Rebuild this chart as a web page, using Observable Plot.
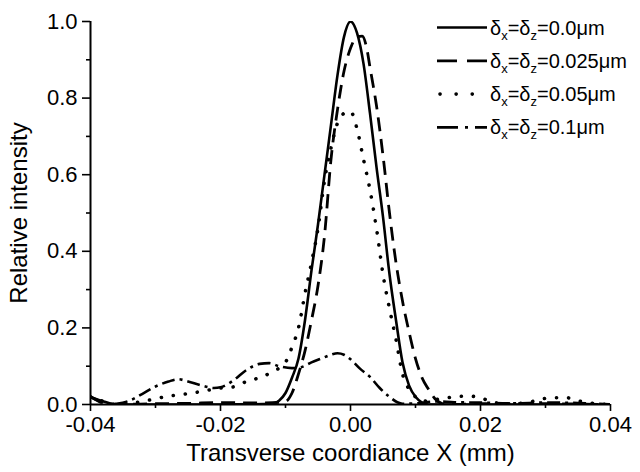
<!DOCTYPE html>
<html>
<head>
<meta charset="utf-8">
<script src="https://cdn.jsdelivr.net/npm/d3@7"></script>
<script src="https://cdn.jsdelivr.net/npm/@observablehq/plot@0.6"></script>
<style>
  html, body { margin: 0; padding: 0; background: #fff; }
  #chart { position: relative; width: 640px; height: 472px; }
</style>
</head>
<body>
<div id="chart"></div>
<script>
// ---- Data ----
const seriesNames = ["0.0", "0.025", "0.05", "0.1"];

const x0 = [-0.040,-0.038,-0.036,-0.030,-0.020,-0.012,-0.011,-0.010,-0.009,-0.008,-0.007,-0.006,-0.005,-0.004,-0.003,-0.002,-0.001,0.000,0.001,0.002,0.003,0.004,0.005,0.006,0.007,0.008,0.009,0.010,0.011,0.012,0.020,0.030,0.040];
const y0 = [0.020,0.008,0.000,0.000,0.000,0.002,0.010,0.030,0.070,0.120,0.220,0.350,0.470,0.600,0.730,0.860,0.960,1.000,0.970,0.890,0.760,0.620,0.490,0.340,0.220,0.110,0.050,0.020,0.005,0.000,0.000,0.000,0.000];

const x1 = [-0.040,-0.038,-0.036,-0.030,-0.025,-0.020,-0.015,-0.012,-0.010,-0.009,-0.008,-0.007,-0.006,-0.005,-0.004,-0.003,-0.002,-0.001,0.000,0.001,0.0018,0.0025,0.003,0.004,0.005,0.006,0.007,0.008,0.009,0.010,0.011,0.012,0.013,0.014,0.015,0.020,0.030,0.040];
const y1 = [0.020,0.005,0.000,0.002,0.003,0.005,0.004,0.005,0.008,0.030,0.080,0.140,0.220,0.310,0.440,0.640,0.770,0.870,0.930,0.960,0.962,0.930,0.880,0.780,0.650,0.500,0.370,0.270,0.190,0.120,0.070,0.040,0.015,0.003,0.000,0.002,0.002,0.000];

const x2 = [-0.040,-0.038,-0.036,-0.034,-0.032,-0.030,-0.028,-0.026,-0.024,-0.022,-0.020,-0.018,-0.016,-0.014,-0.012,-0.011,-0.010,-0.009,-0.008,-0.007,-0.006,-0.005,-0.004,-0.003,-0.002,-0.001,0.000,0.001,0.002,0.003,0.004,0.005,0.006,0.007,0.008,0.009,0.010,0.011,0.012,0.014,0.016,0.018,0.020,0.022,0.025,0.028,0.030,0.033,0.036,0.038,0.040];
const y2 = [0.020,0.008,0.000,0.003,0.008,0.015,0.022,0.026,0.031,0.037,0.043,0.046,0.060,0.070,0.085,0.095,0.110,0.150,0.200,0.290,0.370,0.460,0.585,0.670,0.735,0.760,0.765,0.720,0.640,0.560,0.460,0.340,0.250,0.170,0.080,0.040,0.020,0.008,0.010,0.015,0.020,0.022,0.018,0.005,0.002,0.008,0.016,0.018,0.006,0.002,0.000];

const x3 = [-0.040,-0.0385,-0.037,-0.036,-0.034,-0.032,-0.030,-0.028,-0.0265,-0.025,-0.023,-0.021,-0.020,-0.018,-0.016,-0.014,-0.0125,-0.011,-0.009,-0.0077,-0.006,-0.0045,-0.003,-0.002,-0.001,0.000,0.0015,0.003,0.0045,0.006,0.0072,0.008,0.010,0.013,0.016,0.020,0.025,0.030,0.035,0.040];
const y3 = [0.020,0.006,0.000,0.002,0.010,0.028,0.047,0.060,0.066,0.060,0.050,0.043,0.045,0.063,0.090,0.106,0.108,0.100,0.095,0.097,0.110,0.120,0.130,0.134,0.130,0.118,0.093,0.072,0.043,0.020,0.006,0.002,0.003,0.008,0.006,0.005,0.003,0.005,0.004,0.000];

const xMajor = [-0.04, -0.02, 0, 0.02, 0.04];
const xMinor = [-0.03, -0.01, 0.01, 0.03];
const yMajor = [0, 0.2, 0.4, 0.6, 0.8, 1.0];
const yMinor = [0.1, 0.3, 0.5, 0.7, 0.9];

const xLabel = "Transverse coordiance X (mm)";
const yLabel = "Relative intensity";

// ---- Build table ----
const xsAll = [x0, x1, x2, x3];
const ysAll = [y0, y1, y2, y3];
const table = [];
seriesNames.forEach((s, i) => {
  xsAll[i].forEach((x, j) => table.push({series: s, x, y: ysAll[i][j]}));
});

const styles = {
  "0.0":   {dash: null,          width: 2.6, cap: "butt"},
  "0.025": {dash: "14,8",        width: 2.8, cap: "butt"},
  "0.05":  {dash: "0.1,12",      width: 3.6, cap: "round"},
  "0.1":   {dash: "13,5,3,5",    width: 2.6, cap: "butt"}
};

const FONT = "'Liberation Sans', Arial, Helvetica, sans-serif";

const lineMarks = seriesNames.map(s => Plot.line(table.filter(d => d.series === s), {
  x: "x", y: "y", curve: "monotone-x", stroke: "black",
  strokeWidth: styles[s].width,
  strokeDasharray: styles[s].dash,
  strokeLinecap: styles[s].cap,
  strokeLinejoin: "round",
  clip: true
}));

const plot = Plot.plot({
  width: 640,
  height: 472,
  marginLeft: 90,
  marginRight: 30,
  marginTop: 21,
  marginBottom: 68,
  style: {fontFamily: FONT, color: "black", background: "white"},
  x: {domain: [-0.04, 0.04]},
  y: {domain: [0, 1]},
  marks: [
    ...lineMarks,
    Plot.ruleX([-0.04], {y1: 0, y2: 1, stroke: "black", strokeWidth: 2}),
    Plot.ruleY([0], {x1: -0.04, x2: 0.04, stroke: "black", strokeWidth: 2}),
    Plot.axisY(yMajor, {tickSize: 8, tickPadding: 5, tickFormat: d => d.toFixed(1), fontSize: 22, strokeWidth: 1.6, label: null}),
    Plot.axisY(yMinor, {tickSize: 4, tickFormat: () => "", strokeWidth: 1.6, label: null}),
    Plot.axisX(xMajor, {tickSize: 7, tickPadding: 5, tickFormat: d => d.toFixed(2), fontSize: 22, strokeWidth: 1.6, label: null}),
    Plot.axisX(xMinor, {tickSize: 4, tickFormat: () => "", strokeWidth: 1.6, label: null}),
    Plot.text([xLabel], {frameAnchor: "bottom", lineAnchor: "middle", textAnchor: "middle", dy: 49, fontSize: 24, fill: "black"}),
    Plot.text([yLabel], {frameAnchor: "left", lineAnchor: "middle", textAnchor: "middle", rotate: -90, dx: -71, fontSize: 24, fill: "black"})
  ]
});

document.getElementById("chart").appendChild(plot);

// ---- Legend ----
const legendDash = {
  "0.0": null,
  "0.025": "20,10",
  "0.05": "0.1,16",
  "0.1": "21,7,3,7"
};
const svg = d3.select(plot);
const lg = svg.append("g").attr("font-family", FONT).attr("fill", "black").attr("text-anchor", "start");
seriesNames.forEach((s, i) => {
  const ly = 27.5 + i * 33.3;
  lg.append("line")
    .attr("x1", s === "0.05" ? 440 : 437).attr("x2", 487)
    .attr("y1", ly).attr("y2", ly)
    .attr("stroke", "black")
    .attr("stroke-width", styles[s].width)
    .attr("stroke-linecap", styles[s].cap)
    .attr("stroke-dasharray", legendDash[s]);
  const t = lg.append("text").attr("x", 490).attr("y", ly + 7).attr("font-size", 20).attr("text-anchor", "start");
  t.append("tspan").text("δ");
  t.append("tspan").attr("font-size", 13).attr("dy", 5).text("x");
  t.append("tspan").attr("dy", -5).text("=δ");
  t.append("tspan").attr("font-size", 13).attr("dy", 5).text("z");
  t.append("tspan").attr("dy", -5).text("=" + s + "μm");
});
</script>
</body>
</html>
